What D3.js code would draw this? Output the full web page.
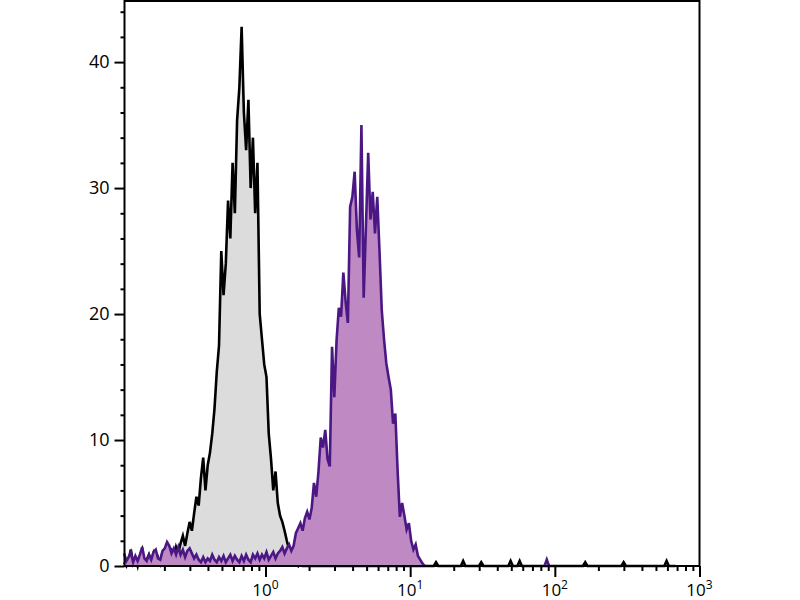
<!DOCTYPE html>
<html>
<head>
<meta charset="utf-8">
<title>Flow histogram</title>
<script src="https://d3js.org/d3.v7.min.js"></script>
<style>
  body { margin: 0; background: #fff; }
  svg { display: block; font-family: "Open Sans", "DejaVu Sans", sans-serif; }
  .tick line { stroke: #000; stroke-width: 2; }
</style>
</head>
<body>
<svg id="chart" width="800" height="600"></svg>
<script>
// channel bins: centre of bin i = binStart * 10^(i / binsPerDecade)
var binStart = 0.1053;
var binsPerDecade = 64;

// isotype control (grey) counts per bin, from bin 0
var grayCounts = [0.3,0,0.5,1.3,0.2,0.6,0,0.8,1.3,0.2,
  0.5,0.9,0.3,1.0,0.4,0.7,0.2,1.1,0.5,0.3,
  0.8,1.2,0.6,1.5,1.0,1.8,2.4,1.6,2.6,3.5,
  2.8,4.2,5.5,4.8,7.0,8.6,6.0,8.0,9.0,10.5,
  12.5,15.4,17.5,25.0,21.5,24.0,29.0,26.0,32.0,28.0,
  35.4,38.0,42.8,36.0,33.0,37.0,30.0,34.0,28.0,32.0,
  20.0,18.0,16.0,15.0,10.5,8.5,6.0,7.5,5.0,4.0,
  3.5,2.8,2.0,1.3,0.7,0.4,0.2,0,0.3,0];
// isolated single events further right (bin, count)
var grayBlips = [[138,0.3],[150,0.4],[158,0.3],[171,0.4],[175,0.4],[204,0.3],[221,0.3],[240,0.4]];
var grayLastBin = 244;

// stained sample (purple) counts per bin, from bin 0
var purpleCounts = [1.0,0.4,0.7,1.1,0.3,0.8,0.4,0.9,1.5,0.6,
  0.4,0.9,0.5,1.1,1.3,0.6,0.5,1.2,1.4,1.9,
  1.6,1.0,1.4,0.9,1.5,0.9,1.3,0.7,1.2,1.4,
  1.0,0.6,0.9,0.5,0.3,0.7,0.3,0.6,0.4,0.9,
  0.5,0.3,0.7,0.4,0.8,0.3,0.6,0.9,0.4,0.8,
  0.5,0.3,0.8,0.4,0.9,0.5,0.3,0.9,0.6,1.0,
  0.5,0.9,0.6,1.1,0.5,0.8,1.1,0.6,1.0,1.2,
  1.5,1.0,1.4,1.7,1.2,1.6,2.6,3.0,3.4,2.8,
  3.8,4.3,3.7,4.6,6.6,5.5,7.5,10.2,9.4,10.8,
  8.5,7.9,17.4,13.4,17.9,20.5,19.8,23.3,21.0,19.3,
  28.5,29.3,31.3,26.7,24.5,35.0,21.3,27.0,32.8,27.5,
  29.7,26.4,29.3,25.0,20.3,18.0,16.1,15.0,14.0,11.3,
  12.1,7.6,3.9,5.0,4.0,2.9,3.4,2.0,1.3,1.7,
  0.8,0.5,0.2,0];
var purpleBlips = [[187,0.5]];

var yMajor = [0, 10, 20, 30, 40];
var yMinorStep = 2;
var xDecades = [1, 10, 100, 1000];
var xExponents = ["0", "1", "2", "3"];

var svg = d3.select("#chart");
var x = d3.scaleLog().domain([0.106, 1000]).range([124.5, 699.5]);
var y = d3.scaleLinear().domain([0, 44.85]).range([566, 1]);

function binX(i) { return x(binStart * Math.pow(10, i / binsPerDecade)); }

// build full series
var graySeries = [];
for (var i = 0; i <= grayLastBin; i++) {
  var v = i < grayCounts.length ? grayCounts[i] : 0;
  grayBlips.forEach(function(b){ if (b[0] == i) v = b[1]; });
  graySeries.push([i, v]);
}
var purpleSeries = purpleCounts.map(function(v, i){ return [i, v]; });

var area = d3.area().x(function(d){ return binX(d[0]); }).y0(y(0)).y1(function(d){ return y(d[1]); });
var line = d3.line().x(function(d){ return binX(d[0]); }).y(function(d){ return y(d[1]); });

// grey histogram
svg.append("path").datum(graySeries).attr("d", area).attr("fill", "#dcdcdc");
svg.append("path").datum(graySeries).attr("d", line)
  .attr("fill", "none").attr("stroke", "#000").attr("stroke-width", 2.6);

// purple histogram
svg.append("path").datum(purpleSeries).attr("d", area).attr("fill", "#bf8ac3");
svg.append("path").datum(purpleSeries).attr("d", line)
  .attr("fill", "none").attr("stroke", "#4b1784").attr("stroke-width", 2.6);
purpleBlips.forEach(function(b){
  svg.append("path").datum([[b[0]-1,0],[b[0],b[1]],[b[0]+1,0]]).attr("d", line)
    .attr("fill", "none").attr("stroke", "#4b1784").attr("stroke-width", 2.6);
});

// frame
svg.append("rect")
  .attr("x", x(0.106)).attr("y", y(44.85))
  .attr("width", x(1000) - x(0.106)).attr("height", y(0) - y(44.85))
  .attr("fill", "none").attr("stroke", "#000").attr("stroke-width", 2);

// y axis
var yMinor = d3.range(0, 45, yMinorStep).filter(function(v){ return v % 10 != 0; });
svg.append("g").attr("transform", "translate(" + x(0.106) + ",0)")
  .call(d3.axisLeft(y).tickValues(yMinor).tickSize(4).tickFormat(""))
  .call(function(g){ g.select(".domain").remove(); });
var yAx = svg.append("g").attr("transform", "translate(" + x(0.106) + ",0)")
  .call(d3.axisLeft(y).tickValues(yMajor).tickSize(10).tickPadding(5))
  .call(function(g){ g.select(".domain").remove(); });
yAx.selectAll("text").attr("font-size", 18).attr("fill", "#000")
  .style("font-family", "'Open Sans', sans-serif");

// x axis
var xMinor = [];
[0.1, 1, 10, 100].forEach(function(d){
  for (var k = 2; k <= 9; k++) xMinor.push(d * k);
});
svg.append("g").attr("transform", "translate(0," + y(0) + ")")
  .call(d3.axisBottom(x).tickValues(xMinor).tickSize(5).tickFormat(""))
  .call(function(g){ g.select(".domain").remove(); });
svg.append("g").attr("transform", "translate(0," + y(0) + ")")
  .call(d3.axisBottom(x).tickValues(xDecades).tickSize(11).tickFormat(""))
  .call(function(g){ g.select(".domain").remove(); });

var xl = svg.append("g").selectAll("text").data(xDecades).enter().append("text")
  .attr("x", function(d){ return x(d); })
  .attr("y", 596)
  .attr("text-anchor", "middle")
  .attr("font-size", 17)
  .attr("fill", "#000");
xl.append("tspan").text("10");
xl.append("tspan").attr("font-size", 12).attr("dy", -7)
  .text(function(d, i){ return xExponents[i]; });
</script>
</body>
</html>
